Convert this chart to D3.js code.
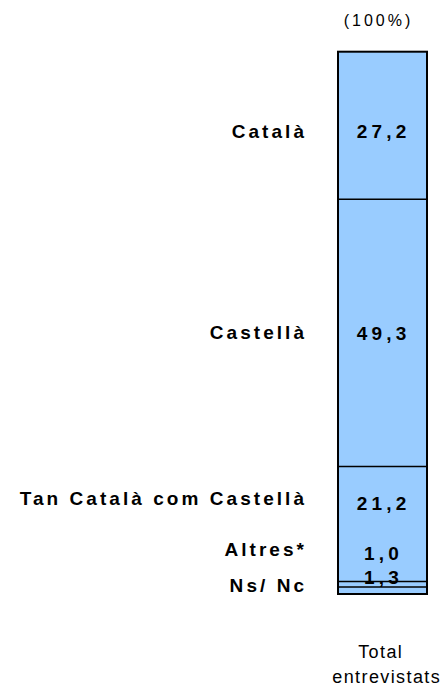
<!DOCTYPE html>
<html>
<head>
<meta charset="utf-8">
<script src="https://cdn.jsdelivr.net/npm/d3@7"></script>
<style>
  html, body { margin: 0; padding: 0; background: #fff; }
  svg { display: block; }
  text { font-family: "Liberation Sans", Arial, sans-serif; fill: #000; }
</style>
</head>
<body>
<svg id="chart" width="444" height="690"></svg>
<script>
// ---- data ----
const categories = ["Català", "Castellà", "Tan Català com Castellà", "Altres*", "Ns/ Nc"];
const values = [27.2, 49.3, 21.2, 1.0, 1.3];
const valueLabels = ["27,2", "49,3", "21,2", "1,0", "1,3"];
const barName = ["Total", "entrevistats"];
const totalLabel = "(100%)";
const yTicks = [0, 100];

// ---- layout ----
const W = 444, H = 690;
const barLeft = 338, barRight = 427;
const barTop = 51.7, barBottom = 594;
// label nudges (px) for readability in the thin segments
const valueNudge = [5.5, 0, -21, -31, -13.5];
const catNudge = [5.5, -1, -26, -35, -5.5];
const bottomCenters = [380, 386];

const svg = d3.select("#chart");

const x = d3.scaleBand().domain(["total"]).range([barLeft, barRight]).padding(0);
const y = d3.scaleLinear().domain([0, 100]).range([barBottom, barTop]);

// stack from top: Català at top
const stackData = [];
let acc = 100;
values.forEach((v, i) => {
  stackData.push({ cat: categories[i], v, label: valueLabels[i], top: acc, bottom: acc - v, i });
  acc -= v;
});

const fill = "#99CCFF";

// segments
svg.append("g").selectAll("rect").data(stackData).join("rect")
  .attr("x", x("total"))
  .attr("width", x.bandwidth())
  .attr("y", d => y(d.top))
  .attr("height", d => y(d.bottom) - y(d.top))
  .attr("fill", fill)
  .attr("stroke", "none");

// value labels
const vLS = 4.2;
svg.append("g").selectAll("text").data(stackData).join("text")
  .attr("x", x("total") + x.bandwidth() / 2 + vLS / 2 - 1)
  .attr("y", d => (y(d.top) + y(d.bottom)) / 2 + valueNudge[d.i])
  .attr("dy", "0.36em")
  .attr("text-anchor", "middle")
  .style("font-size", "19px")
  .style("font-weight", "bold")
  .style("letter-spacing", vLS + "px")
  .text(d => d.label);

// separator lines
svg.append("g").selectAll("line").data(stackData.slice(0, -1)).join("line")
  .attr("x1", barLeft).attr("x2", barRight)
  .attr("y1", d => y(d.bottom)).attr("y2", d => y(d.bottom))
  .attr("stroke", "#000").attr("stroke-width", 1.6);

// outer border
svg.append("rect")
  .attr("x", barLeft).attr("y", y(yTicks[1]))
  .attr("width", barRight - barLeft)
  .attr("height", y(yTicks[0]) - y(yTicks[1]))
  .attr("fill", "none").attr("stroke", "#000").attr("stroke-width", 2);

// category labels (left)
const cLS = 3.05;
svg.append("g").selectAll("text").data(stackData).join("text")
  .attr("x", 304 + cLS)
  .attr("y", d => (y(d.top) + y(d.bottom)) / 2 + catNudge[d.i])
  .attr("dy", "0.36em")
  .attr("text-anchor", "end")
  .style("font-size", "19px")
  .style("font-weight", "bold")
  .style("letter-spacing", cLS + "px")
  .text(d => d.cat);

// total label on top
svg.append("text")
  .attr("x", 377 + 1.5)
  .attr("y", 26)
  .attr("text-anchor", "middle")
  .style("font-size", "16px")
  .style("letter-spacing", "3px")
  .text(totalLabel);

// category axis label below
const bLS = 1.4;
svg.append("g").selectAll("text").data(barName).join("text")
  .attr("x", (d, i) => bottomCenters[i] + bLS / 2)
  .attr("y", (d, i) => 658 + i * 24.7)
  .attr("text-anchor", "middle")
  .style("font-size", "18px")
  .style("letter-spacing", bLS + "px")
  .text(d => d);
</script>
</body>
</html>
